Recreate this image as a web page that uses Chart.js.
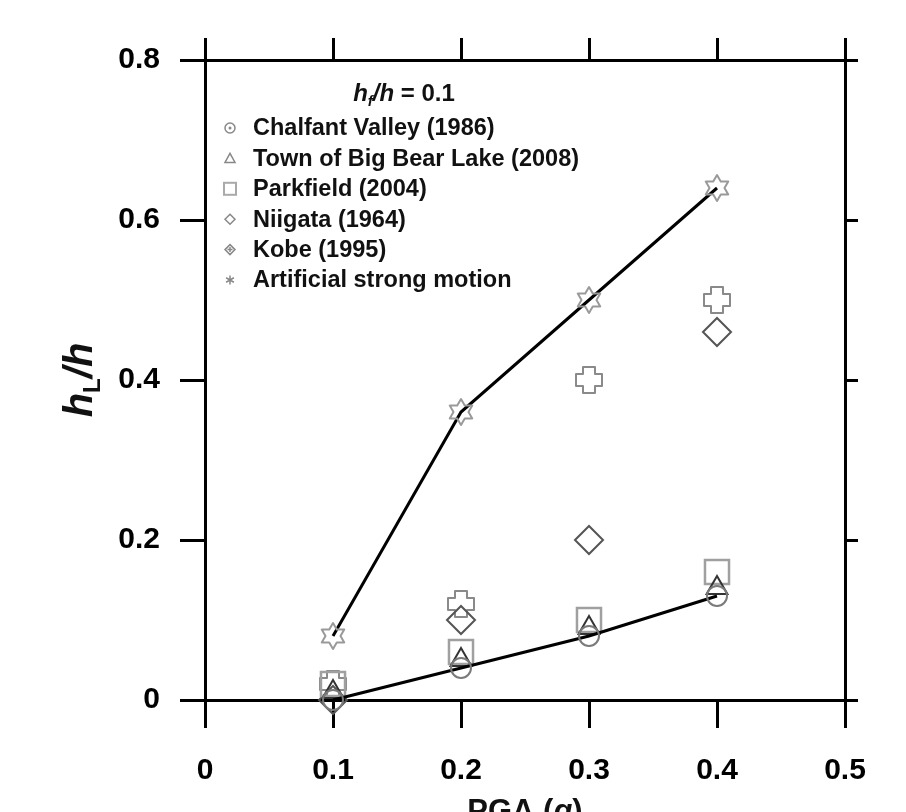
<!DOCTYPE html>
<html>
<head>
<meta charset="utf-8">
<script src="https://cdn.jsdelivr.net/npm/chart.js@4/dist/chart.umd.min.js"></script>
<style>
  html, body { margin: 0; padding: 0; background: #fff; }
  canvas { display: block; }
</style>
</head>
<body>
<canvas id="chart" width="906" height="812"></canvas>
<script>
// PGA levels (g) and normalised liquefied depth per motion
const pga = [0.1, 0.2, 0.3, 0.4];
const chalfant = [0, 0.04, 0.08, 0.13];
const bigBear = [0.01, 0.05, 0.09, 0.14];
const parkfield = [0.02, 0.06, 0.10, 0.16];
const niigata = [0, 0.10, 0.20, 0.46];
const kobe = [0.02, 0.12, 0.40, 0.50];
const artificial = [0.08, 0.36, 0.50, 0.64];

const motionNames = [
    'Chalfant Valley (1986)',
    'Town of Big Bear Lake (2008)',
    'Parkfield (2004)',
    'Niigata (1964)',
    'Kobe (1995)',
    'Artificial strong motion',
];

const xTicks = [0, 0.1, 0.2, 0.3, 0.4, 0.5];
const yTicks = [0, 0.2, 0.4, 0.6, 0.8];

const FONT = '"Liberation Sans", Arial, sans-serif';

function toPoints(values) {
    return values.map((v, i) => ({ x: pga[i], y: v }));
}

// outlined six-point star
function makeStar(R, color) {
    const size = Math.ceil(R * 2 + 4);
    const c = document.createElement('canvas');
    c.width = c.height = size;
    const g = c.getContext('2d');
    const cx = size / 2;
    const r = R / Math.sqrt(3);
    g.beginPath();
    for (let i = 0; i < 12; i++) {
        const a = -Math.PI / 2 + i * Math.PI / 6;
        const rad = i % 2 === 0 ? R : r;
        const px = cx + rad * Math.cos(a);
        const py = cx + rad * Math.sin(a);
        if (i === 0) g.moveTo(px, py); else g.lineTo(px, py);
    }
    g.closePath();
    g.lineJoin = 'round';
    g.lineWidth = 2;
    g.strokeStyle = color;
    g.stroke();
    return c;
}

// outlined plus sign
function makePlus(e, w, color) {
    const size = Math.ceil(e * 2 + 4);
    const c = document.createElement('canvas');
    c.width = c.height = size;
    const g = c.getContext('2d');
    const o = size / 2;
    const pts = [[-w, -e], [w, -e], [w, -w], [e, -w], [e, w], [w, w],
                 [w, e], [-w, e], [-w, w], [-e, w], [-e, -w], [-w, -w]];
    g.beginPath();
    pts.forEach((p, i) => {
        if (i === 0) g.moveTo(o + p[0], o + p[1]); else g.lineTo(o + p[0], o + p[1]);
    });
    g.closePath();
    g.lineJoin = 'round';
    g.lineWidth = 2;
    g.strokeStyle = color;
    g.stroke();
    return c;
}

const starImg = makeStar(13, '#9a9a9a');
const plusImg = makePlus(13, 6, '#8a8a8a');

// text with italic / subscript runs
function drawRuns(g, runs, x, y, align) {
    let total = 0;
    runs.forEach(r => { g.font = r.font; total += g.measureText(r.text).width; });
    let cx = align === 'center' ? x - total / 2 : x;
    runs.forEach(r => {
        g.font = r.font;
        g.fillText(r.text, cx, y + (r.dy || 0));
        cx += g.measureText(r.text).width;
    });
}

function legendMarker(g, i, x, y) {
    g.save();
    g.strokeStyle = '#888';
    g.fillStyle = '#888';
    g.lineWidth = 1.5;
    g.beginPath();
    if (i === 0) {
        g.arc(x, y, 5, 0, Math.PI * 2);
        g.stroke();
        g.beginPath();
        g.arc(x, y, 1.5, 0, Math.PI * 2);
        g.fill();
    } else if (i === 1) {
        g.moveTo(x, y - 5);
        g.lineTo(x + 5, y + 4);
        g.lineTo(x - 5, y + 4);
        g.closePath();
        g.stroke();
    } else if (i === 2) {
        g.strokeStyle = '#aaa';
        g.lineWidth = 2;
        g.strokeRect(x - 6, y - 6, 12, 12);
    } else if (i === 3) {
        g.moveTo(x, y - 5); g.lineTo(x + 5, y); g.lineTo(x, y + 5); g.lineTo(x - 5, y);
        g.closePath();
        g.stroke();
    } else if (i === 4) {
        g.moveTo(x, y - 5); g.lineTo(x + 5, y); g.lineTo(x, y + 5); g.lineTo(x - 5, y);
        g.closePath();
        g.moveTo(x - 2.5, y); g.lineTo(x + 2.5, y);
        g.moveTo(x, y - 2.5); g.lineTo(x, y + 2.5);
        g.stroke();
    } else {
        for (let k = 0; k < 3; k++) {
            const a = k * Math.PI / 3;
            g.moveTo(x - 4.5 * Math.sin(a), y - 4.5 * Math.cos(a));
            g.lineTo(x + 4.5 * Math.sin(a), y + 4.5 * Math.cos(a));
        }
        g.stroke();
    }
    g.restore();
}

const annotations = {
    id: 'annotations',
    afterDraw(chart) {
        const g = chart.ctx;
        g.save();
        g.fillStyle = '#111';
        g.textBaseline = 'alphabetic';

        // legend title
        drawRuns(g, [
            { text: 'h', font: `italic bold 24px ${FONT}` },
            { text: 'f', font: `italic bold 15px ${FONT}`, dy: 5 },
            { text: '/h', font: `italic bold 24px ${FONT}` },
            { text: ' = 0.1', font: `bold 24px ${FONT}` },
        ], 404, 101, 'center');

        // legend rows
        motionNames.forEach((name, i) => {
            const y = 128 + i * 30.4;
            legendMarker(g, i, 230, y);
            g.fillStyle = '#111';
            g.font = `bold 23.5px ${FONT}`;
            g.textBaseline = 'middle';
            g.fillText(name, 253, y + 1);
        });
        g.textBaseline = 'alphabetic';

        // y axis title
        g.save();
        g.translate(92, 380);
        g.rotate(-Math.PI / 2);
        drawRuns(g, [
            { text: 'h', font: `italic bold 40px ${FONT}` },
            { text: 'L', font: `bold 24px ${FONT}`, dy: 8 },
            { text: '/h', font: `italic bold 40px ${FONT}` },
        ], 0, 0, 'center');
        g.restore();

        // x axis title
        drawRuns(g, [
            { text: 'PGA (', font: `bold 31px ${FONT}` },
            { text: 'g', font: `italic bold 31px ${FONT}` },
            { text: ')', font: `bold 31px ${FONT}` },
        ], 525, 821, 'center');

        g.restore();
    }
};

const tickFmt = v => (v === 0 ? '0' : v.toFixed(1));

function axis(position, min, max, tickList, size, tickLen, showLabels, pad) {
    return {
        type: 'linear',
        position: position,
        min: min,
        max: max,
        afterFit: s => {
            if (position === 'left' || position === 'right') s.width = size; else s.height = size;
        },
        afterBuildTicks: s => { s.ticks = tickList.map(v => ({ value: v })); },
        ticks: {
            display: showLabels,
            callback: tickFmt,
            color: '#000',
            font: { family: FONT, size: 30, weight: 'bold' },
            padding: pad,
            maxRotation: 0,
            autoSkip: false,
        },
        grid: {
            drawOnChartArea: false,
            drawTicks: true,
            tickLength: tickLen,
            tickWidth: 3,
            tickColor: '#000',
            lineWidth: 3,
            color: '#000',
        },
        border: { display: true, color: '#000', width: 3 },
    };
}

new Chart(document.getElementById('chart'), {
    type: 'scatter',
    data: {
        datasets: [
            {
                label: motionNames[0], data: toPoints(chalfant), showLine: true, order: 0,
                borderColor: '#000', borderWidth: 3,
                pointStyle: 'circle', pointRadius: 10,
                pointBorderColor: '#7a7a7a', pointBackgroundColor: 'rgba(0,0,0,0)', pointBorderWidth: 2,
            },
            {
                label: motionNames[1], data: toPoints(bigBear), order: 1,
                pointStyle: 'triangle', pointRadius: 12,
                pointBorderColor: '#333', pointBackgroundColor: 'rgba(0,0,0,0)', pointBorderWidth: 2,
            },
            {
                label: motionNames[2], data: toPoints(parkfield), order: 1,
                pointStyle: 'rect', pointRadius: 17,
                pointBorderColor: '#a0a0a0', pointBackgroundColor: 'rgba(0,0,0,0)', pointBorderWidth: 2.5,
            },
            {
                label: motionNames[3], data: toPoints(niigata), order: 1,
                pointStyle: 'rectRot', pointRadius: 14,
                pointBorderColor: '#555', pointBackgroundColor: 'rgba(0,0,0,0)', pointBorderWidth: 2,
            },
            {
                label: motionNames[4], data: toPoints(kobe), order: 1,
                pointStyle: plusImg,
            },
            {
                label: motionNames[5], data: toPoints(artificial), showLine: true, order: 0,
                borderColor: '#000', borderWidth: 3,
                pointStyle: starImg,
            },
        ].map(d => Object.assign({ clip: false, pointHoverRadius: d.pointRadius }, d)),
    },
    options: {
        responsive: false,
        animation: false,
        layout: { padding: 0 },
        plugins: { legend: { display: false }, tooltip: { enabled: false } },
        scales: {
            x: axis('bottom', 0, 0.5, xTicks, 112, 28, true, 25),
            xTop: axis('top', 0, 0.5, xTicks, 60, 22, false, 0),
            y: axis('left', 0, 0.8, yTicks, 205, 25, true, 20),
            yRight: axis('right', 0, 0.8, yTicks, 61, 13, false, 0),
        },
    },
    plugins: [annotations],
});
</script>
</body>
</html>
